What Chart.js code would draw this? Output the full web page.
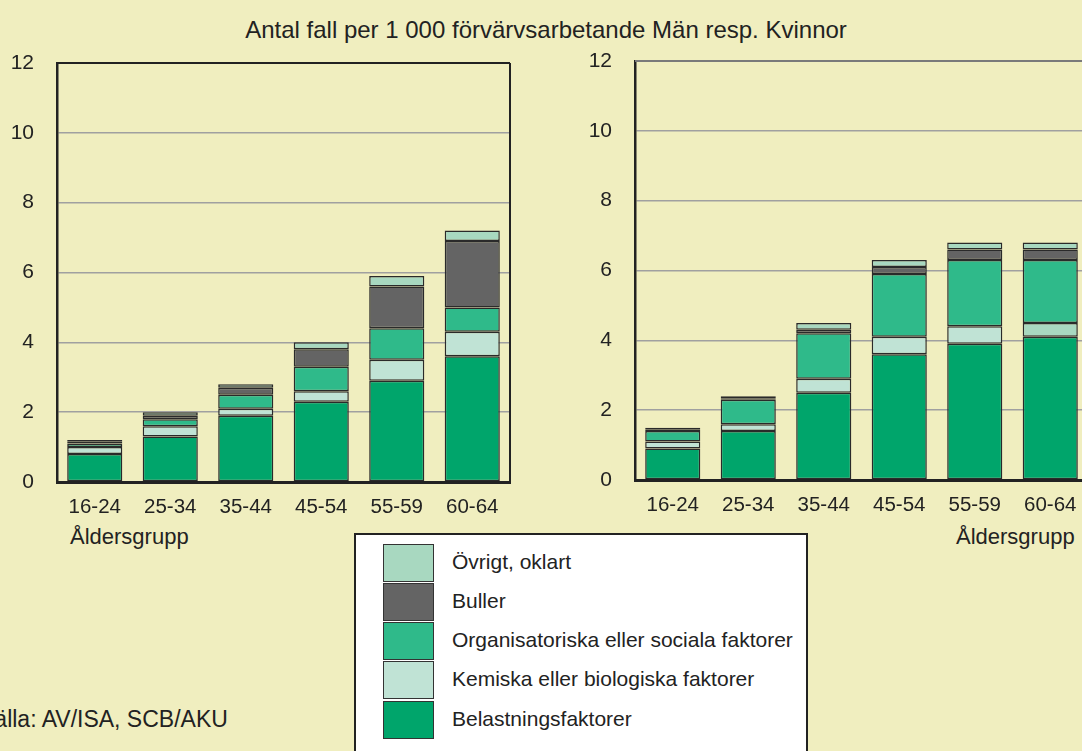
<!DOCTYPE html>
<html>
<head>
<meta charset="utf-8">
<script src="https://cdn.jsdelivr.net/npm/chart.js@4.4.1/dist/chart.umd.min.js"></script>
<style>
  html, body { margin: 0; padding: 0; }
  body {
    width: 1082px; height: 751px; overflow: hidden; position: relative;
    background: #f0eebf; font-family: "Liberation Sans", Arial, sans-serif; color: #222;
  }
  .abs { position: absolute; white-space: nowrap; }
  #title { top: 16px; left: 0; width: 1092px; text-align: center; font-size: 24px; }
  .xtitle { font-size: 22px; top: 524px; }
  #source { left: -21px; top: 706px; font-size: 23px; }
  #legend {
    left: 354px; top: 533px; width: 454px; height: 240px;
    background: #fff; border: 2.5px solid #222; box-sizing: border-box;
  }
  .item { position: absolute; left: 27px; height: 37px; }
  .sw { position: absolute; left: 0; top: 0; width: 49px; height: 36px; border: 1px solid #333; }
  .lbl { position: absolute; left: 69px; top: 6px; font-size: 21px; }
</style>
</head>
<body>
<div id="title" class="abs">Antal fall per 1 000 förvärvsarbetande Män resp. Kvinnor</div>

<div class="abs" style="left:0;top:0;width:512px;height:522px;"><canvas id="men"></canvas></div>
<div class="abs" style="left:580px;top:0;width:510px;height:520px;"><canvas id="women"></canvas></div>

<div class="abs xtitle" style="left:70px;">Åldersgrupp</div>
<div class="abs xtitle" style="left:956px;">Åldersgrupp</div>

<div id="legend" class="abs"></div>
<div id="source" class="abs">Källa: AV/ISA, SCB/AKU</div>

<script>
const categories = ["16-24", "25-34", "35-44", "45-54", "55-59", "60-64"];
const yTicks = [0, 2, 4, 6, 8, 10, 12];

const seriesNames = [
  "Belastningsfaktorer",
  "Kemiska eller biologiska faktorer",
  "Organisatoriska eller sociala faktorer",
  "Buller",
  "Övrigt, oklart"
];
const seriesColors = ["#00a56b", "#c0e3d5", "#2fba8a", "#646464", "#a8d8c0"];

// Män
const menBelastning = [0.8, 1.3, 1.9, 2.3, 2.9, 3.6];
const menKemiska = [0.2, 0.3, 0.2, 0.3, 0.6, 0.7];
const menOrganisatoriska = [0.1, 0.2, 0.4, 0.7, 0.9, 0.7];
const menBuller = [0.05, 0.1, 0.2, 0.5, 1.2, 1.9];
const menOvrigt = [0.05, 0.1, 0.1, 0.2, 0.3, 0.3];

// Kvinnor
const womenBelastning = [0.9, 1.4, 2.5, 3.6, 3.9, 4.1];
const womenKemiska = [0.2, 0.2, 0.4, 0.5, 0.5, 0.4];
const womenOrganisatoriska = [0.3, 0.7, 1.3, 1.8, 1.9, 1.8];
const womenBuller = [0.05, 0.03, 0.1, 0.2, 0.3, 0.3];
const womenOvrigt = [0.05, 0.07, 0.2, 0.2, 0.2, 0.2];

const FONT = "'Liberation Sans', Arial, sans-serif";

// frame around the plot area (top and right lines)
const framePlugin = {
  id: "frame",
  afterDraw(chart, args, opts) {
    const { ctx, chartArea: a } = chart;
    ctx.save();
    ctx.lineWidth = 2;
    ctx.strokeStyle = opts.top || "#222";
    ctx.beginPath();
    ctx.moveTo(a.left, a.top);
    ctx.lineTo(a.right, a.top);
    ctx.stroke();
    ctx.strokeStyle = opts.right || "#222";
    ctx.beginPath();
    ctx.moveTo(a.right, a.top);
    ctx.lineTo(a.right, a.bottom);
    ctx.stroke();
    ctx.restore();
  }
};

function makeChart(id, seriesData, top, yWidth, frameOpts) {
  const datasets = seriesData.map((d, i) => ({
    label: seriesNames[i],
    data: d,
    backgroundColor: seriesColors[i],
    borderColor: "#2a2a2a",
    borderWidth: 1.5,
    borderSkipped: false,
    barPercentage: 0.73,
    categoryPercentage: 1
  }));
  return new Chart(document.getElementById(id), {
    type: "bar",
    data: { labels: categories, datasets: datasets },
    plugins: [framePlugin],
    options: {
      responsive: true,
      maintainAspectRatio: false,
      animation: false,
      layout: { padding: { top: top, right: 2, left: 0, bottom: 0 } },
      plugins: { legend: { display: false }, tooltip: { enabled: false }, frame: frameOpts },
      scales: {
        x: {
          stacked: true,
          grid: { display: false, drawTicks: false },
          border: { color: "#222", width: 3 },
          ticks: { color: "#222", font: { family: FONT, size: 20.5 }, padding: 13 },
          afterFit(s) { s.height = 40; }
        },
        y: {
          stacked: true,
          min: 0,
          max: 12,
          afterBuildTicks(s) { s.ticks = yTicks.map(v => ({ value: v })); },
          grid: { color: "#a0a0a0", lineWidth: 1.5, drawTicks: false },
          border: { color: "#222", width: 2.5 },
          ticks: { color: "#222", font: { family: FONT, size: 21 }, padding: 23 },
          afterFit(s) { s.width = yWidth; }
        }
      }
    }
  });
}

makeChart("men", [menBelastning, menKemiska, menOrganisatoriska, menBuller, menOvrigt], 63, 57,
  { top: "#222", right: "#222" });
const women = makeChart("women", [womenBelastning, womenKemiska, womenOrganisatoriska, womenBuller, womenOvrigt], 61, 55,
  { top: "#7a7a7a", right: "#7a7a7a" });
// the 60-64 kemiska segment is drawn in a darker light green in the source
women.data.datasets[1].backgroundColor = categories.map((c, i) => i === 5 ? seriesColors[4] : seriesColors[1]);
women.update();

// legend, top to bottom: Övrigt ... Belastning
const legend = document.getElementById("legend");
const tops = [9, 48, 87, 126, 166];
for (let k = 0; k < seriesNames.length; k++) {
  const i = seriesNames.length - 1 - k;
  const item = document.createElement("div");
  item.className = "item";
  item.style.top = tops[k] + "px";
  item.innerHTML = '<div class="sw" style="background:' + seriesColors[i] + '"></div><div class="lbl">' + seriesNames[i] + "</div>";
  legend.appendChild(item);
}
</script>
</body>
</html>
